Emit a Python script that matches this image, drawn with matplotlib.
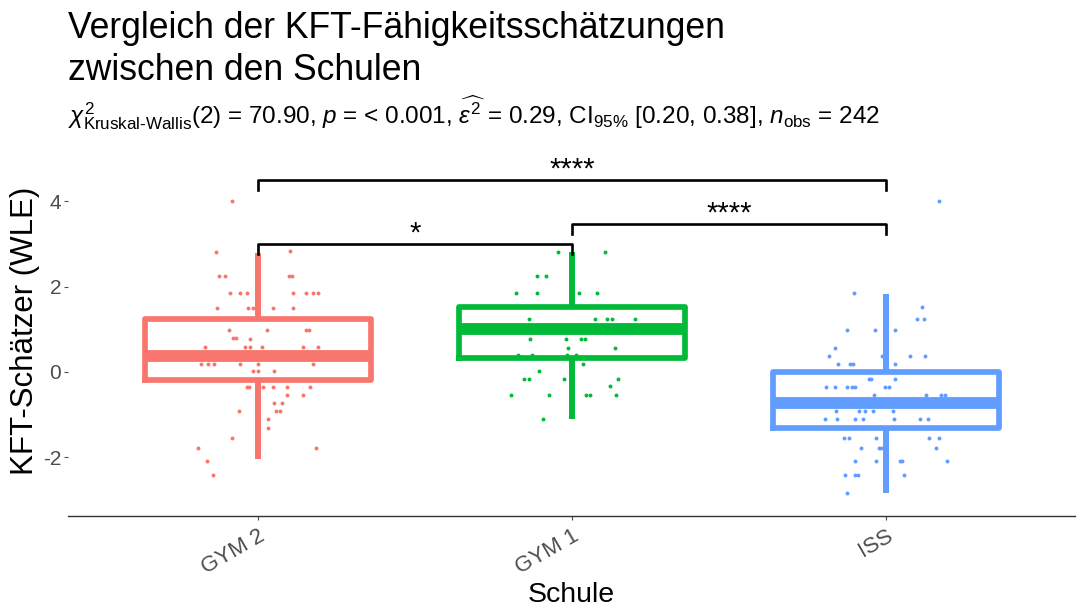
import matplotlib
matplotlib.use('Agg')
import matplotlib.pyplot as plt

plt.rcParams['font.family'] = ['Liberation Sans', 'DejaVu Sans']
plt.rcParams['mathtext.fontset'] = 'custom'
plt.rcParams['mathtext.rm'] = 'Liberation Sans'
plt.rcParams['mathtext.it'] = 'Liberation Sans:italic'
plt.rcParams['mathtext.bf'] = 'Liberation Sans:bold'

schools = ['GYM 2', 'GYM 1', 'ISS']
colors = ['#F8766D', '#00BA38', '#619CFF']

# box statistics
q1 = [-0.19, 0.33, -1.31]
med = [0.38, 1.01, -0.73]
q3 = [1.24, 1.53, 0.00]
whislo = [-2.04, -1.10, -2.84]
whishi = [2.79, 2.82, 1.83]

# jittered points: horizontal offset from group centre, value
gym2_dx = [-0.084, -0.135, 0.103, -0.124, -0.104, 0.10, 0.108, -0.089, -0.057, -0.034,
           0.11, 0.153, 0.174, 0.192, -0.13, -0.031, -0.017, 0.049, 0.11, -0.092,
           0.029, 0.153, 0.163, -0.079, -0.07, -0.025, -0.169, -0.041, -0.027, 0.012,
           0.142, 0.192, -0.183, -0.158, -0.139, -0.057, 0.0, 0.174, -0.017, 0.001,
           0.052, -0.036, -0.028, 0.017, 0.049, 0.091, 0.166, 0.091, 0.142, 0.052,
           0.075, -0.061, 0.056, 0.07, 0.033, 0.033, -0.084, -0.192, 0.185, -0.161,
           -0.144]
gym2_y = [4.0, 2.82, 2.84, 2.24, 2.24, 2.24, 2.24, 1.85, 1.85, 1.85,
          1.85, 1.85, 1.85, 1.85, 1.51, 1.51, 1.51, 1.51, 1.51, 0.99,
          0.99, 0.99, 0.99, 0.79, 0.79, 0.77, 0.58, 0.58, 0.58, 0.58,
          0.58, 0.58, 0.19, 0.19, 0.19, 0.19, 0.19, 0.19, 0.01, 0.01,
          0.01, -0.36, -0.36, -0.36, -0.36, -0.36, -0.36, -0.54, -0.54, -0.72,
          -0.72, -0.91, -0.91, -0.91, -1.11, -1.32, -1.54, -1.79, -1.79, -2.08,
          -2.42]

gym1_dx = [-0.044, 0.106, -0.112, -0.082, -0.18, -0.112, 0.023, 0.079, -0.138, 0.074,
           0.11, 0.127, 0.2, -0.134, -0.021, 0.029, 0.041, -0.012, 0.137, -0.173,
           -0.127, -0.017, 0.011, 0.034, -0.106, -0.152, -0.139, -0.025, 0.146, 0.119,
           -0.196, -0.074, 0.045, 0.058, 0.139, -0.093]
gym1_y = [2.82, 2.82, 2.25, 2.25, 1.85, 1.85, 1.85, 1.85, 1.24, 1.24,
          1.24, 1.24, 1.24, 0.78, 0.78, 0.78, 0.78, 0.57, 0.57, 0.40,
          0.40, 0.40, 0.40, 0.18, 0.01, -0.16, -0.16, -0.16, -0.16, -0.34,
          -0.54, -0.54, -0.54, -0.54, -0.54, -1.11]

iss_dx = [0.169, -0.104, -0.005, 0.114, 0.098, 0.119, -0.125, -0.035, 0.029, -0.165,
          -0.184, -0.014, 0.074, 0.122, -0.154, -0.115, -0.106, 0.027, -0.056, -0.048,
          0.027, -0.192, -0.162, -0.125, -0.109, -0.101, -0.003, 0.01, -0.04, 0.126,
          0.175, 0.186, -0.16, -0.086, -0.067, -0.044, 0.02, -0.196, -0.157, -0.101,
          -0.074, 0.023, 0.106, 0.133, -0.136, -0.12, -0.032, 0.135, 0.169, -0.08,
          -0.024, -0.017, 0.159, -0.101, -0.032, 0.045, 0.05, 0.193, -0.133, -0.101,
          -0.091, 0.055, -0.125]
iss_y = [4.0, 1.85, 1.52, 1.52, 1.24, 1.24, 0.99, 0.99, 0.99, 0.57,
         0.38, 0.38, 0.38, 0.38, 0.19, 0.19, 0.19, 0.19, -0.17, -0.17,
         -0.17, -0.36, -0.36, -0.36, -0.36, -0.36, -0.36, -0.36, -0.54, -0.54,
         -0.54, -0.54, -0.91, -0.91, -0.91, -0.91, -0.91, -1.11, -1.11, -1.11,
         -1.11, -1.11, -1.11, -1.11, -1.54, -1.54, -1.54, -1.54, -1.54, -1.79,
         -1.79, -1.79, -1.79, -2.08, -2.08, -2.08, -2.08, -2.08, -2.42, -2.42,
         -2.42, -2.42, -2.83]

# significance brackets: (left group, right group, height, label)
brackets = [(1, 3, 4.50, '****'), (1, 2, 3.00, '*'), (2, 3, 3.47, '****')]

fig = plt.figure(figsize=(10.77, 6.07), dpi=100)
ax = fig.add_axes([0.0631, 0.1499, 0.9349, 0.6096])

dxs = [gym2_dx, gym1_dx, iss_dx]
ys = [gym2_y, gym1_y, iss_y]
for i in range(3):
    ax.scatter([i + 1 + d for d in dxs[i]], ys[i], s=8, color=colors[i],
               linewidths=0, zorder=2)

for i in range(3):
    st = [dict(q1=q1[i], med=med[i], q3=q3[i], whislo=whislo[i],
               whishi=whishi[i], fliers=[])]
    ax.bxp(st, positions=[i + 1], widths=0.72, showcaps=False,
           boxprops=dict(color=colors[i], linewidth=4.1),
           whiskerprops=dict(color=colors[i], linewidth=4.3, solid_capstyle='butt'),
           medianprops=dict(color=colors[i], linewidth=8.5, solid_capstyle='butt'),
           manage_ticks=False, zorder=3)

for a, b, h, lab in brackets:
    ax.plot([a, a, b, b], [h - 0.24, h, h, h - 0.24], color='black', lw=1.9,
            zorder=4)
    ax.text((a + b) / 2, h + 0.06, lab, ha='center', va='baseline', fontsize=21)

ax.set_xlim(0.395, 3.6)
ax.set_ylim(-3.38, 5.3)
ax.set_xticks([1, 2, 3])
ax.set_xticklabels(schools, rotation=30, ha='right', rotation_mode='anchor',
                   fontsize=16, color='#4d4d4d')
ax.set_yticks([-2, 0, 2, 4])
ax.set_yticklabels(['-2', '0', '2', '4'], fontsize=15, color='#4d4d4d')
ax.tick_params(axis='both', length=3, color='#4d4d4d', width=0.8)
ax.tick_params(axis='y', pad=2)
for s in ['top', 'right', 'left']:
    ax.spines[s].set_visible(False)
ax.spines['bottom'].set_color('#333333')
ax.spines['bottom'].set_linewidth(1.0)

ax.set_xlabel('Schule', fontsize=20.5)
ax.xaxis.set_label_coords(0.5, -0.2324)
ax.xaxis.label.set_va('baseline')
ax.set_ylabel('KFT-Schätzer (WLE)', fontsize=22.5)
ax.yaxis.set_label_coords(-0.028, 0.5)

fig.text(68 / 1077, 1 - 38 / 607, 'Vergleich der KFT-Fähigkeitsschätzungen',
         ha='left', va='baseline', fontsize=25.6)
fig.text(68 / 1077, 1 - 80 / 607, 'zwischen den Schulen',
         ha='left', va='baseline', fontsize=25.6)
sub = (r'$\chi^2_{\mathrm{Kruskal‐Wallis}}$(2) = 70.90, $\mathit{p}$ = < 0.001, '
       r'$\widehat{\varepsilon^2}$ = 0.29, CI$_{\mathrm{95\%}}$ [0.20, 0.38], '
       r'$\mathit{n}_{\mathrm{obs}}$ = 242')
fig.text(68 / 1077, 1 - 123 / 607, sub, ha='left', va='baseline', fontsize=17.5)

fig.savefig('out.png', dpi=100)
